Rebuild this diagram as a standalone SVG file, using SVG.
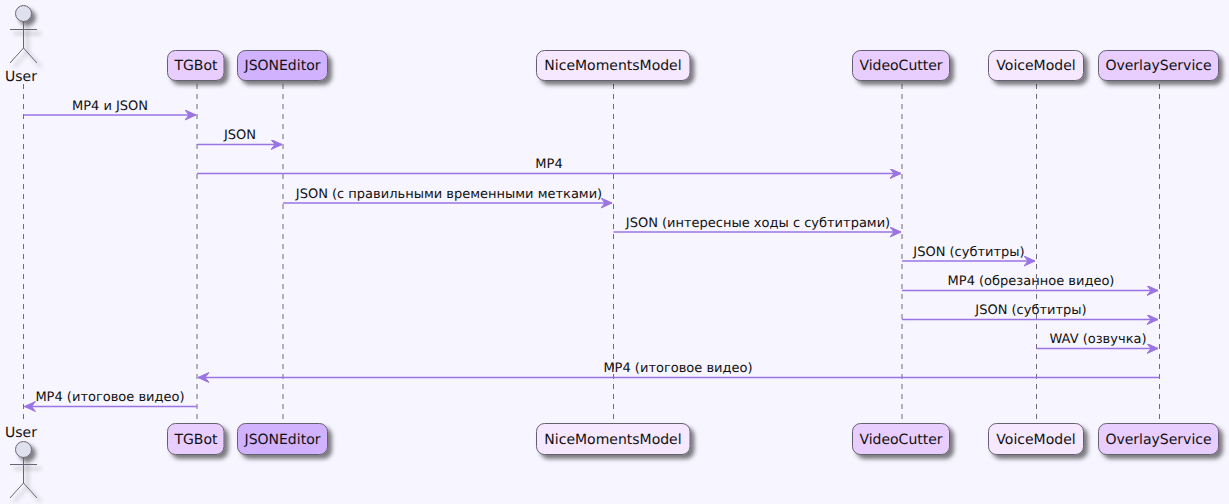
<svg xmlns="http://www.w3.org/2000/svg" width="1229" height="504" viewBox="0 0 1229 504">
<style>
text{font-family:"DejaVu Sans",sans-serif;fill:#111;text-rendering:geometricPrecision}
.n{font-size:14px;text-anchor:middle}
.m{font-size:13px;text-anchor:middle}
.life{stroke:#6f6a7c;stroke-width:1;stroke-dasharray:5 5;fill:none}
.msg{stroke:#9a74e4;stroke-width:1.5;fill:none}
.box{stroke:#665f70;stroke-width:1}
.act{stroke:#6b6373;stroke-width:1;fill:none}
.a{fill:#e0e1ee}.b{fill:#e8cdff}.c{fill:#d0b2ff}.d{fill:#f5e8ff}
</style>
<defs>
<filter id="s" x="-30%" y="-30%" width="170%" height="170%"><feDropShadow dx="4" dy="4" stdDeviation="2" flood-color="#000" flood-opacity="0.5"/></filter>
<marker id="h" markerUnits="userSpaceOnUse" markerWidth="13" markerHeight="12" refX="11" refY="5" orient="auto-start-reverse"><path d="M0 0L11 5L0 10L4 5Z" fill="#9a74e4" stroke="#9a74e4"/></marker>
</defs>
<rect width="1229" height="504" fill="#f7f5ff"/>
<g id="lifelines">
<path class="life" d="M23.5 84V420M197 84V420M283 84V420M613.5 84V420M902 84V420M1036.5 84V420M1159.5 84V420"/>
</g>
<g id="connectors">
<g class="m">
<path class="msg" marker-end="url(#h)" d="M23.5 115H196"/><text x="110" y="110">MP4 и JSON</text>
<path class="msg" marker-end="url(#h)" d="M197 144.500H282"/><text x="240" y="139">JSON</text>
<path class="msg" marker-end="url(#h)" d="M197 173.500H901"/><text x="549" y="168">MP4</text>
<path class="msg" marker-end="url(#h)" d="M283 203H612"/><text x="449" y="198">JSON (с правильными временными метками)</text>
<path class="msg" marker-end="url(#h)" d="M613.500 232H901"/><text x="758" y="227">JSON (интересные ходы с субтитрами)</text>
<path class="msg" marker-end="url(#h)" d="M902 261H1035"/><text x="969" y="256">JSON (субтитры)</text>
<path class="msg" marker-end="url(#h)" d="M902 290.500H1158"/><text x="1031" y="285">MP4 (обрезанное видео)</text>
<path class="msg" marker-end="url(#h)" d="M902 319.500H1158"/><text x="1031" y="314">JSON (субтитры)</text>
<path class="msg" marker-end="url(#h)" d="M1036.500 348.500H1158"/><text x="1098" y="343">WAV (озвучка)</text>
<path class="msg" marker-end="url(#h)" d="M1159.500 377.500H198"/><text x="678" y="372">MP4 (итоговое видео)</text>
<path class="msg" marker-end="url(#h)" d="M197 406.500H24.500"/><text x="110" y="401">MP4 (итоговое видео)</text>
</g>
</g>
<g id="user-top">
<g filter="url(#s)"><circle class="a" cx="23.500" cy="13.500" r="8" stroke="#6b6373"/><path class="act" d="M23.500 21.500V48M10 29.500H37M23.500 48L10 63M23.500 48L37 63"/></g>
<text class="n" x="21" y="81">User</text>
</g>
<g id="user-bottom">
<text class="n" x="21" y="437">User</text>
<g filter="url(#s)"><circle class="a" cx="23.500" cy="449.500" r="8" stroke="#6b6373"/><path class="act" d="M23.500 457.500V483M10 464.500H37M23.500 483L10 498M23.500 483L37 498"/></g>
</g>
<g id="tgbot">
<rect class="box b" filter="url(#s)" x="167.500" y="50.500" width="56.500" height="30" rx="8"/><text class="n" x="196" y="70">TGBot</text>
<rect class="box b" filter="url(#s)" x="167.500" y="423.500" width="56.500" height="31" rx="8"/><text class="n" x="196" y="444">TGBot</text>
</g>
<g id="jsoneditor">
<rect class="box c" filter="url(#s)" x="237.500" y="50.500" width="90" height="30" rx="8"/><text class="n" x="282.500" y="70">JSONEditor</text>
<rect class="box c" filter="url(#s)" x="237.500" y="423.500" width="90" height="31" rx="8"/><text class="n" x="282.500" y="444">JSONEditor</text>
</g>
<g id="nicemomentsmodel">
<rect class="box d" filter="url(#s)" x="536.500" y="50.500" width="153.500" height="30" rx="8"/><text class="n" x="613" y="70">NiceMomentsModel</text>
<rect class="box d" filter="url(#s)" x="536.500" y="423.500" width="153.500" height="31" rx="8"/><text class="n" x="613" y="444">NiceMomentsModel</text>
</g>
<g id="videocutter">
<rect class="box b" filter="url(#s)" x="852.500" y="50.500" width="97" height="30" rx="8"/><text class="n" x="901" y="70">VideoCutter</text>
<rect class="box b" filter="url(#s)" x="852.500" y="423.500" width="97" height="31" rx="8"/><text class="n" x="901" y="444">VideoCutter</text>
</g>
<g id="voicemodel">
<rect class="box d" filter="url(#s)" x="988.500" y="50.500" width="95" height="30" rx="8"/><text class="n" x="1036" y="70">VoiceModel</text>
<rect class="box d" filter="url(#s)" x="988.500" y="423.500" width="95" height="31" rx="8"/><text class="n" x="1036" y="444">VoiceModel</text>
</g>
<g id="overlayservice">
<rect class="box b" filter="url(#s)" x="1098.500" y="50.500" width="120" height="30" rx="8"/><text class="n" x="1158.500" y="70">OverlayService</text>
<rect class="box b" filter="url(#s)" x="1098.500" y="423.500" width="120" height="31" rx="8"/><text class="n" x="1158.500" y="444">OverlayService</text>
</g>
</svg>
